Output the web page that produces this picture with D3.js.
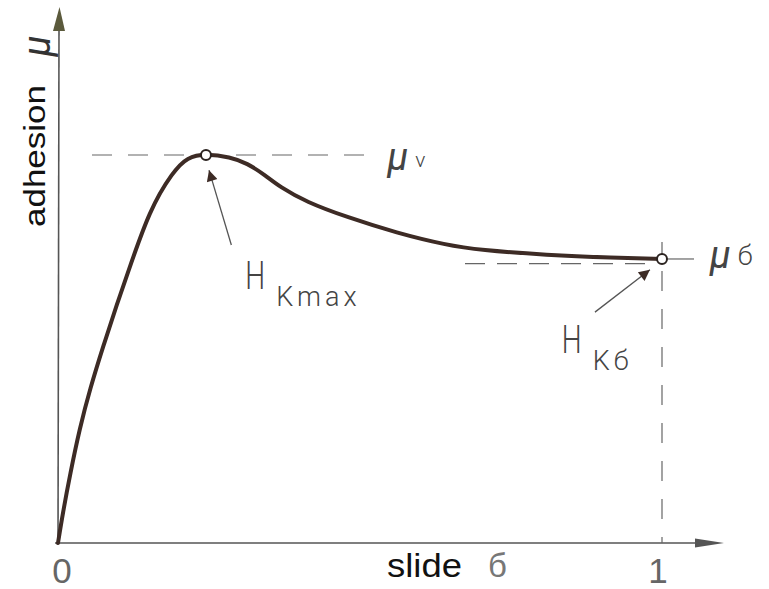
<!DOCTYPE html>
<html>
<head>
<meta charset="utf-8">
<script src="https://cdn.jsdelivr.net/npm/d3@7"></script>
<style>
  html, body { margin: 0; padding: 0; background: #fff; }
  #chart { width: 769px; height: 589px; }
</style>
</head>
<body>
<div id="chart"></div>
<script>
// ====== data ======
// slide (0 .. 1) and adhesion (normalised so that the peak mu_v = 1)
const slide    = [0, 0.008, 0.020, 0.036, 0.053, 0.075, 0.099, 0.114, 0.152, 0.190, 0.214, 0.245,
                  0.285, 0.313, 0.343, 0.367, 0.411, 0.478, 0.561, 0.643, 0.698, 0.809, 0.919, 1.0];
const adhesion = [0, 0.077, 0.177, 0.296, 0.397, 0.508, 0.622, 0.689, 0.861, 0.956, 0.995, 1.003,
                  0.995, 0.979, 0.948, 0.918, 0.879, 0.840, 0.799, 0.768, 0.755, 0.742, 0.735, 0.732];

const muV = 1.0;      // peak adhesion level
const muB = 0.72;     // sliding adhesion level (dashed line)
const peakIndex = 11; // H_K max
const endIndex  = 23; // H_K б

const xTicks      = [0, 1];
const xTickLabels = ["0", "1"];

// ====== chart ======
class AdhesionChart {
  constructor(id) {
    this.id = id;
    this.initSVG();
    this.initScales();
    this.drawAxes();
    this.drawGuides();
    this.drawCurve();
    this.drawAnnotations();
  }

  initSVG() {
    const div = d3.select(`#${this.id}`);
    this.width  = 769;
    this.height = 589;
    this.svg = div.append("svg")
      .attr("width", this.width)
      .attr("height", this.height)
      .style("font-family", "Roboto, 'Liberation Sans', sans-serif");

    const defs = this.svg.append("defs");
    defs.append("marker")
      .attr("id", "head")
      .attr("viewBox", "0 0 10 10")
      .attr("refX", 10).attr("refY", 5)
      .attr("markerUnits", "userSpaceOnUse")
      .attr("markerWidth", 24).attr("markerHeight", 11)
      .attr("orient", "auto")
      .append("path")
        .attr("d", "M0,0 L10,5 L0,10 Z")
        .attr("fill", "#3d2b25");
  }

  initScales() {
    this.x = d3.scaleLinear().domain([0, 1]).range([58, 662]);
    this.y = d3.scaleLinear().domain([0, 1]).range([543, 155]);
  }

  drawAxes() {
    const g = this.svg.append("g").attr("class", "axes");
    const x0 = this.x(0), y0 = this.y(0);

    // x axis with arrow
    g.append("line")
      .attr("x1", x0 - 3).attr("y1", y0).attr("x2", 700).attr("y2", y0)
      .attr("stroke", "#555").attr("stroke-width", 1.6);
    g.append("path")
      .attr("d", `M695,${y0 - 4.5} L724,${y0} L695,${y0 + 4.5} Z`)
      .attr("fill", "#555");

    // y axis with arrow
    g.append("line")
      .attr("x1", x0).attr("y1", y0).attr("x2", x0 + 1).attr("y2", 28)
      .attr("stroke", "#555").attr("stroke-width", 1.6);
    g.append("path")
      .attr("d", `M${x0 - 5},31 L${x0 + 1.5},7 L${x0 + 7},31 Z`)
      .attr("fill", "#5b5a3c");

    // tick labels
    g.selectAll("text.tick")
      .data(xTicks)
      .join("text")
      .attr("class", "tick")
      .attr("x", (d, i) => this.x(d) + (i === 0 ? 4 : -4))
      .attr("y", 583)
      .attr("text-anchor", "middle")
      .attr("font-family", "'Liberation Sans', Arial, sans-serif")
      .style("font-size", "35px")
      .attr("fill", "#666")
      .text((d, i) => xTickLabels[i]);

    // axis titles
    g.append("text")
      .attr("x", 387).attr("y", 577)
      .attr("font-family", "'Liberation Sans', Arial, sans-serif")
      .attr("textLength", 75).attr("lengthAdjust", "spacingAndGlyphs")
      .style("font-size", "33px")
      .attr("fill", "#111")
      .text("slide");
    g.append("text")
      .attr("x", 488).attr("y", 577)
      .attr("font-family", "'Liberation Sans', Arial, sans-serif")
      .style("font-size", "33px")
      .attr("fill", "#777")
      .text("б");

    g.append("text")
      .attr("transform", "translate(45,156) rotate(-90)")
      .attr("text-anchor", "middle")
      .attr("font-family", "'Liberation Sans', Arial, sans-serif")
      .attr("textLength", 142).attr("lengthAdjust", "spacingAndGlyphs")
      .style("font-size", "29px")
      .attr("fill", "#111")
      .text("adhesion");

    g.append("text")
      .attr("transform", "translate(50,46) rotate(-90)")
      .attr("text-anchor", "middle")
      .attr("font-style", "italic")
      .style("font-size", "38px")
      .attr("fill", "#333")
      .text("μ");
  }

  drawGuides() {
    const g = this.svg.append("g").attr("class", "guides")
      .attr("stroke", "#666").attr("stroke-width", 1.2).attr("fill", "none");
    const xe = this.x(slide[endIndex]);
    const ye = this.y(adhesion[endIndex]);

    // mu_v level
    g.append("line")
      .attr("x1", 92).attr("x2", 372)
      .attr("y1", this.y(muV)).attr("y2", this.y(muV))
      .attr("stroke-dasharray", "20,16");

    // mu_б level
    g.append("line")
      .attr("x1", 465).attr("x2", xe - 8)
      .attr("y1", this.y(muB)).attr("y2", this.y(muB))
      .attr("stroke-dasharray", "20,12");

    // slide = 1
    g.append("line")
      .attr("x1", xe).attr("x2", xe)
      .attr("y1", ye + 12).attr("y2", this.y(0))
      .attr("stroke-dasharray", "20,18");
    g.append("line")
      .attr("x1", xe).attr("x2", xe)
      .attr("y1", ye - 17).attr("y2", ye - 5);
    g.append("line")
      .attr("x1", xe + 5).attr("x2", xe + 32)
      .attr("y1", ye).attr("y2", ye);
  }

  drawCurve() {
    const pts = slide.map((s, i) => [s, adhesion[i]]);
    const line = d3.line()
      .x(d => this.x(d[0]))
      .y(d => this.y(d[1]))
      .curve(d3.curveBasis);

    this.svg.append("path")
      .datum(pts)
      .attr("d", line)
      .attr("fill", "none")
      .attr("stroke", "#3d2b25")
      .attr("stroke-width", 4)
      .attr("stroke-linejoin", "round")
      .attr("stroke-linecap", "round");

    // open circles sit on the mu_v peak and on the final slide point
    const marks = [
      { s: slide[peakIndex], a: muV },
      { s: slide[endIndex], a: adhesion[endIndex] }
    ];
    this.svg.selectAll("circle.mark")
      .data(marks)
      .join("circle")
      .attr("class", "mark")
      .attr("cx", d => this.x(d.s))
      .attr("cy", d => this.y(d.a))
      .attr("r", 5)
      .attr("fill", "#fff")
      .attr("stroke", "#2b2320")
      .attr("stroke-width", 2);
  }

  drawAnnotations() {
    const g = this.svg.append("g").attr("class", "annotations");
    const arrows = [
      { from: [0.287, 0.768], to: [0.250, 0.961] },
      { from: [0.889, 0.595], to: [0.980, 0.704] }
    ];
    g.selectAll("line.arrow")
      .data(arrows)
      .join("line")
      .attr("class", "arrow")
      .attr("x1", d => this.x(d.from[0])).attr("y1", d => this.y(d.from[1]))
      .attr("x2", d => this.x(d.to[0])).attr("y2", d => this.y(d.to[1]))
      .attr("stroke", "#555").attr("stroke-width", 1.3)
      .attr("marker-end", "url(#head)");

    const labels = [
      { at: [0.310, 0.655], sub: "Kmax" },
      { at: [0.834, 0.490], sub: "Kб" }
    ];
    labels.forEach(l => {
      const lx = this.x(l.at[0]), ly = this.y(l.at[1]);
      g.append("text")
        .attr("transform", `translate(${lx},${ly}) scale(0.72,1)`)
        .attr("font-weight", 300)
        .style("font-size", "39px")
        .attr("fill", "#444")
        .text("H");
      g.append("text")
        .attr("x", lx + 31).attr("y", ly + 17)
        .attr("font-weight", 300)
        .attr("letter-spacing", 4)
        .style("font-size", "27px")
        .attr("fill", "#444")
        .text(l.sub);
    });

    // level labels
    const levels = [
      { at: [0.545, 0.961], sub: "v" },
      { at: [1.079, 0.709], sub: "б" }
    ];
    levels.forEach(l => {
      const lx = this.x(l.at[0]), ly = this.y(l.at[1]);
      g.append("text")
        .attr("x", lx).attr("y", ly)
        .attr("font-style", "italic")
        .style("font-size", "38px")
        .attr("fill", "#444")
        .text("μ");
      g.append("text")
        .attr("x", lx + 28).attr("y", ly - 3)
        .attr("font-weight", 300)
        .style("font-size", l.sub === "v" ? "21px" : "27px")
        .attr("fill", "#444")
        .text(l.sub);
    });
  }
}

new AdhesionChart("chart");
</script>
</body>
</html>
